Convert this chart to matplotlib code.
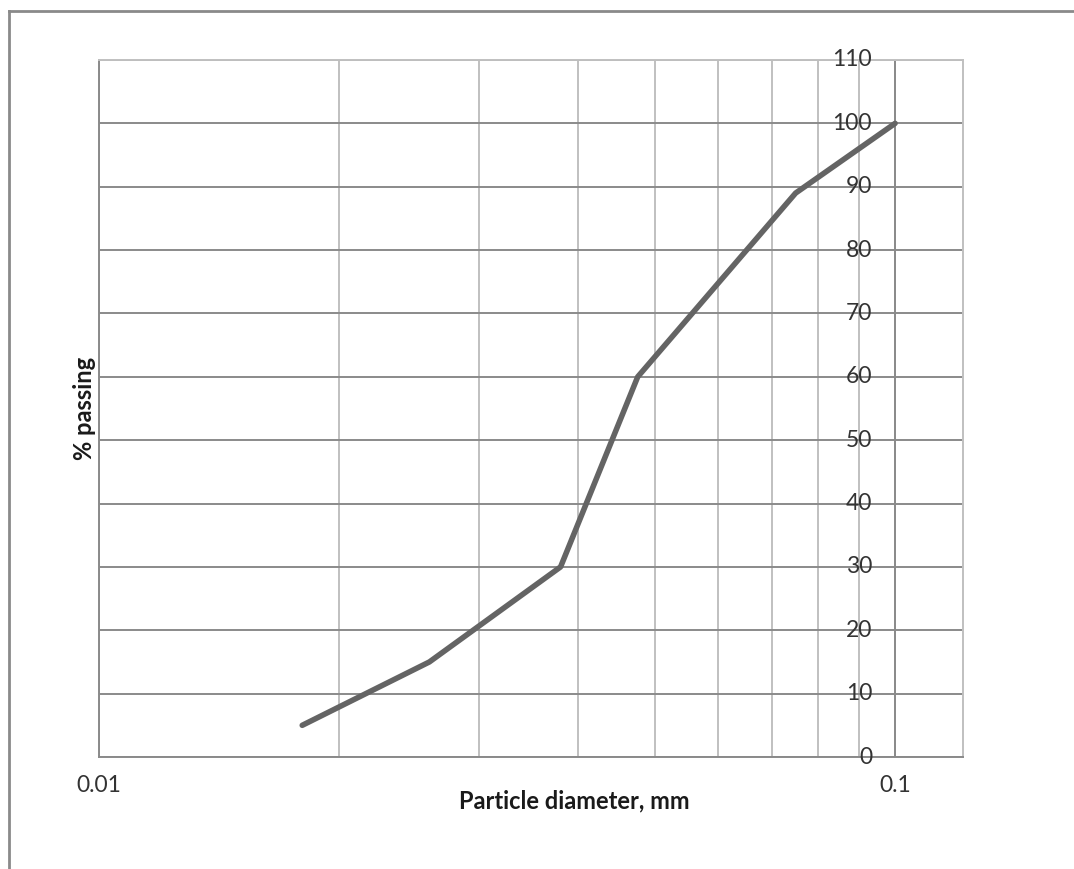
import numpy as np
import matplotlib
matplotlib.use("Agg")
import matplotlib.pyplot as plt
from matplotlib.lines import Line2D

# grain size data
diameter = [0.018, 0.026, 0.038, 0.0475, 0.075, 0.1]
passing = [5, 15, 30, 60, 89, 100]

y_ticks = list(range(0, 111, 10))
x_grid = [0.01, 0.02, 0.03, 0.04, 0.05, 0.06, 0.07, 0.08, 0.09, 0.1]
x_labels = {0.01: "0.01", 0.1: "0.1"}

plt.rcParams['font.family'] = ['Lato', 'DejaVu Sans']

W, H = 1074, 869
fig = plt.figure(figsize=(W / 100, H / 100), dpi=100)
ax = fig.add_axes([99 / W, (H - 757) / H, (963 - 99) / W, (757 - 60) / H])

ax.set_xscale('log')
ax.set_xlim(0.01, 0.1217)
ax.set_ylim(0, 110)

# grid lines, Excel style
for v in x_grid:
    ax.axvline(v, color='#c0c0c0', lw=1.4, zorder=1)
for v in y_ticks:
    ax.axhline(v, color='#8a8a8a', lw=1.4, zorder=1)
# vertical value axis crossing at 0.1
ax.axvline(0.1, color='#8a8a8a', lw=1.4, zorder=2)

ax.plot(diameter, passing, color='#646464', lw=4, solid_capstyle='round',
        solid_joinstyle='round', zorder=3)

ax.set_xticks([])
ax.set_yticks([])
ax.minorticks_off()
for side in ['left', 'bottom']:
    ax.spines[side].set_color('#8a8a8a')
    ax.spines[side].set_linewidth(1.4)
for side in ['right', 'top']:
    ax.spines[side].set_color('#c0c0c0')
    ax.spines[side].set_linewidth(1.4)

for v in y_ticks:
    ax.annotate(str(v), xy=(0.1, v), xytext=(-23, 0), textcoords='offset pixels',
                ha='right', va='center', fontsize=16.5, color='#333333', zorder=4)
for v, s in x_labels.items():
    ax.annotate(s, xy=(v, 0), xytext=(0, -28), textcoords='offset pixels',
                ha='center', va='center', fontsize=16.5, color='#333333')

fig.text(574 / W, 1 - 801 / H, "Particle diameter, mm", ha='center', va='center',
         fontsize=17, fontweight='bold', color='#1a1a1a')
fig.text(84 / W, 1 - 408 / H, "% passing", ha='center', va='center', rotation=90,
         fontsize=17, fontweight='bold', color='#1a1a1a')

# chart border
fig.add_artist(Line2D([9 / W, 9 / W], [0, 1 - 11 / H], color='#8a8a8a', lw=2,
                      transform=fig.transFigure))
fig.add_artist(Line2D([9 / W, 1], [1 - 11 / H, 1 - 11 / H], color='#8a8a8a', lw=2,
                      transform=fig.transFigure))

fig.savefig("out.png", dpi=100)
